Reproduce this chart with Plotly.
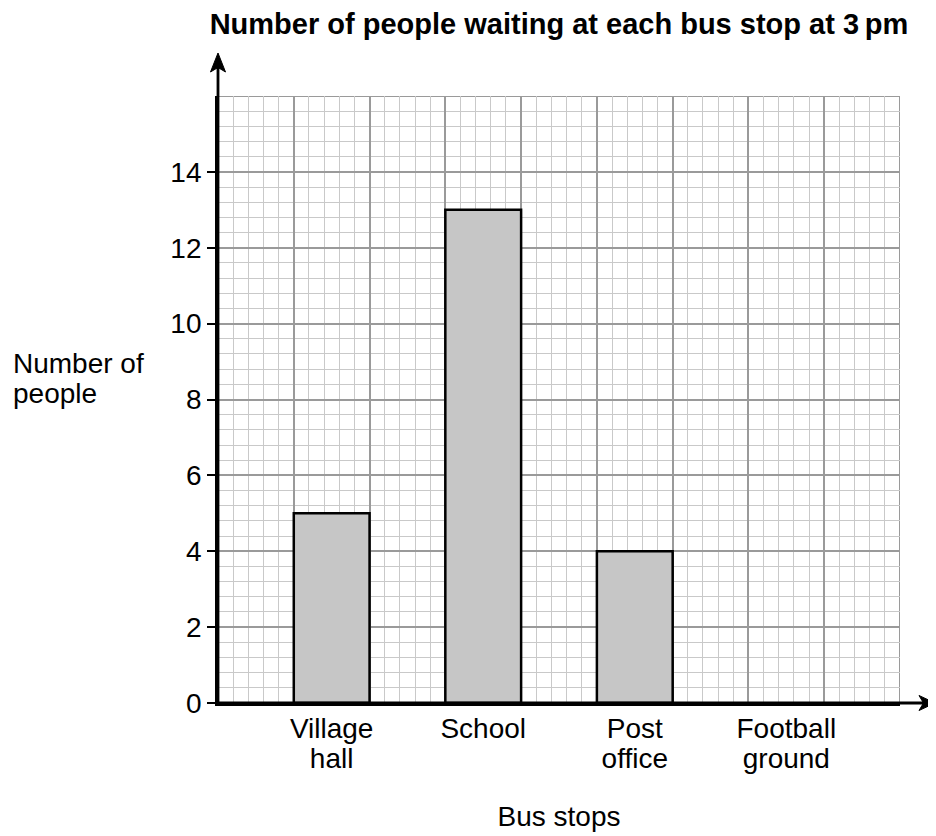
import plotly.graph_objects as go

# ---- data ----
bus_stops = ["Village hall", "School", "Post office", "Football ground"]
people = [5, 13, 4, None]
stop_positions = [1.5, 3.5, 5.5, 7.5]
y_tick_values = [0, 2, 4, 6, 8, 10, 12, 14]

title_text = "Number of people waiting at each bus stop at 3\u2009pm"
x_title = "Bus stops"
y_title_lines = ["Number of", "people"]

# split category names over two lines (as printed on the chart)
first_lines = [s.split(" ", 1)[0] for s in bus_stops]
second_lines = [s.split(" ", 1)[1] if " " in s else "" for s in bus_stops]

FONT = "Liberation Sans, Arial, sans-serif"
MAJOR = "#9a9a9a"
MINOR = "#c9c9c9"
FS = 28

W, H = 936, 836
OFF = 8  # page body margin offset in the screenshot
L, R, T, B = 210, 44, 88, 141
pw = W - L - R
ph = H - T - B


def px(xs):
    """screen x pixel -> paper x"""
    return (xs - OFF - L) / pw


def py(ys):
    """screen y pixel -> paper y"""
    return (T + ph - (ys - OFF)) / ph


fig = go.Figure()
fig.add_trace(go.Bar(
    x=stop_positions, y=people, width=1,
    marker=dict(color="#c6c6c6", line=dict(color="black", width=2.5)),
    xaxis="x", yaxis="y", showlegend=False, hoverinfo="skip",
))
# invisible carriers so the label axes are drawn
for ax in ("x2", "x3"):
    fig.add_trace(go.Scatter(
        x=stop_positions, y=people, mode="markers", marker=dict(opacity=0),
        xaxis=ax, yaxis="y", showlegend=False, hoverinfo="skip",
    ))

label_axis = dict(
    overlaying="x", anchor="y", side="bottom", range=[0, 9],
    tickmode="array", tickvals=stop_positions,
    showgrid=False, zeroline=False, showline=False,
    ticks="outside", tickcolor="rgba(0,0,0,0)",
    tickfont=dict(size=FS, color="black", family=FONT),
    fixedrange=True,
)

fig.update_layout(
    width=W, height=H,
    margin=dict(l=L, r=R, t=T, b=B, autoexpand=False),
    paper_bgcolor="white", plot_bgcolor="white",
    font=dict(family=FONT, color="black", size=FS),
    title=dict(text=title_text, font=dict(family=FONT, size=29, weight="bold", color="black"),
               x=0.5, xref="paper", xanchor="center",
               y=1 - 6 / H, yref="container", yanchor="top"),
    xaxis=dict(
        range=[0, 9], tick0=0, dtick=1, showticklabels=False, ticks="",
        showgrid=True, gridcolor=MAJOR, gridwidth=2,
        minor=dict(dtick=0.2, tick0=0, showgrid=True, gridcolor=MINOR, gridwidth=1.3),
        zeroline=False, showline=True, linecolor="black", linewidth=2.8,
        title=dict(text=x_title, font=dict(size=FS), standoff=102),
        fixedrange=True,
    ),
    xaxis2=dict(label_axis, ticktext=first_lines, ticklen=0),
    xaxis3=dict(label_axis, ticktext=second_lines, ticklen=30),
    yaxis=dict(
        range=[0, 16], tickmode="array", tickvals=y_tick_values,
        ticks="outside", ticklen=8, tickwidth=1.5, tickcolor="black",
        tickfont=dict(size=FS, color="black"),
        showgrid=True, gridcolor=MAJOR, gridwidth=2,
        minor=dict(dtick=0.4, tick0=0, showgrid=True, gridcolor=MINOR, gridwidth=1.3),
        zeroline=False, showline=True, linecolor="black", linewidth=2.8,
        fixedrange=True,
    ),
)

# outer border of graph paper (top and right edges)
fig.add_shape(type="rect", xref="x", yref="y", x0=0, x1=9, y0=0, y1=16,
              line=dict(color=MAJOR, width=2), layer="below")

# axis extensions with arrowheads (drawn in paper space)
AX_Y = 703   # screen y of x-axis
AX_X = 218   # screen x of y-axis
fig.add_shape(type="line", xref="paper", yref="paper",
              x0=px(AX_X), y0=py(AX_Y), x1=px(926), y1=py(AX_Y),
              line=dict(color="black", width=2.8))
fig.add_shape(type="line", xref="paper", yref="paper",
              x0=px(AX_X), y0=py(AX_Y), x1=px(AX_X), y1=py(62),
              line=dict(color="black", width=2.8))


def path(points):
    return "M " + " L ".join(f"{a:.5f},{b:.5f}" for a, b in points) + " Z"


x_head = [(935, AX_Y), (919, AX_Y - 7.5), (923.5, AX_Y), (919, AX_Y + 7.5)]
y_head = [(AX_X, 53), (AX_X - 7.5, 72), (AX_X, 67.5), (AX_X + 7.5, 72)]
for head in (x_head, y_head):
    fig.add_shape(type="path", xref="paper", yref="paper",
                  path=path([(px(a), py(b)) for a, b in head]),
                  fillcolor="black", line=dict(color="black", width=1))

# y-axis title (horizontal, left aligned, two lines)
for line_text, baseline in zip(y_title_lines, (373, 403)):
    fig.add_annotation(x=px(13) - 2 / pw, y=py(baseline - 10), xref="paper", yref="paper",
                       xanchor="left", yanchor="middle", align="left", showarrow=False,
                       text=line_text, font=dict(size=FS, color="black"))

fig.write_html("out.html")
